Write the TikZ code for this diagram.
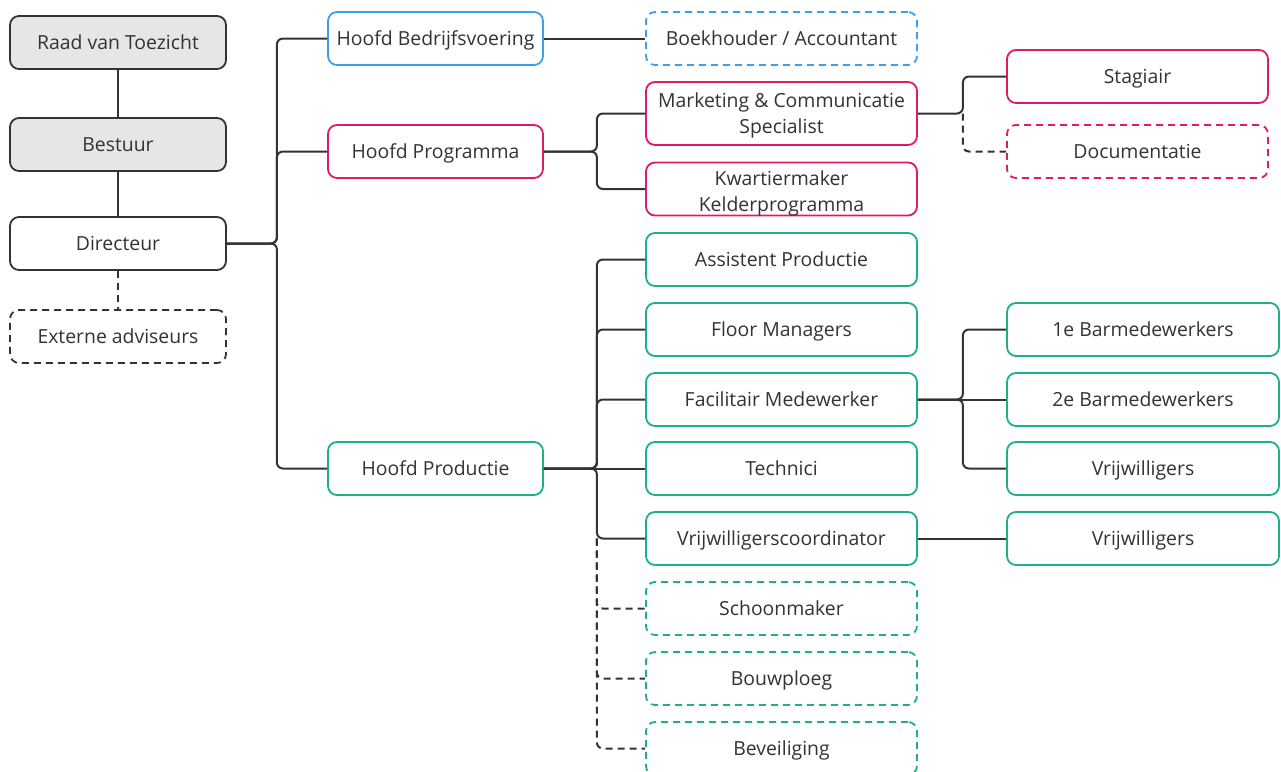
\documentclass[tikz,border=0pt]{standalone}
\usepackage{fontspec}
\setmainfont{Open Sans}
\definecolor{dk}{HTML}{333333}
\definecolor{gr}{HTML}{E6E6E6}
\definecolor{bl}{HTML}{3BA0E8}
\definecolor{mg}{HTML}{E0196A}
\definecolor{tl}{HTML}{1DAE8E}
\begin{document}
\begin{tikzpicture}[x=1pt,y=-1pt,
  font=\fontsize{19.4}{26.3}\selectfont, text=dk,
  box/.style={draw=#1, rounded corners=9pt, line width=1.8pt, minimum height=53pt,
    inner sep=0pt, text height=13.9pt, text depth=0pt, fill=white},
  dbox/.style={box=#1, dash pattern=on 7pt off 5pt},
  wa/.style={minimum width=216pt},
  wb/.style={minimum width=271pt},
  wc/.style={minimum width=261pt},
  wd/.style={minimum width=272pt},
  conn/.style={draw=dk, line width=2pt, rounded corners=6pt},
  dconn/.style={conn, dash pattern=on 7pt off 5pt}]
\useasboundingbox (0,0) rectangle (1281,771);
% left column
\node[box=dk, fill=gr, wa] (raad) at (118,42.5) {Raad van Toezicht};
\node[box=dk, fill=gr, wa] (best) at (118,144.5) {Bestuur};
\node[box=dk, wa] (dir) at (118,243.5) {Directeur};
\node[dbox=dk, wa] (ext) at (118,336.5) {Externe adviseurs};
% heads
\node[box=bl, minimum width=215pt] (hb) at (435.5,38.5) {Hoofd Bedrijfsvoering};
\node[box=mg, minimum width=215pt] (hpr) at (435.5,151.5) {Hoofd Programma};
\node[box=tl, minimum width=215pt] (hp) at (435.5,468.5) {Hoofd Productie};
% middle column
\node[dbox=bl, wb] (bk) at (781.5,38.5) {Boekhouder / Accountant};
\node[box=mg, wb, minimum height=63pt] (mc) at (781.5,113.5)
  {\raisebox{-13.2pt}{\parbox[b]{265pt}{\centering Marketing \& Communicatie\\Specialist}}};
\node[box=mg, wb] (kw) at (781.5,189)
  {\raisebox{-15.9pt}{\parbox[b]{265pt}{\centering Kwartiermaker\\Kelderprogramma}}};
\node[box=tl, wb] (ap) at (781.5,259.5) {Assistent Productie};
\node[box=tl, wb] (fm) at (781.5,329.5) {Floor Managers};
\node[box=tl, wb] (fac) at (781.5,399.5) {Facilitair Medewerker};
\node[box=tl, wb] (tec) at (781.5,468.5) {Technici};
\node[box=tl, wb] (vc) at (781.5,538.5) {Vrijwilligerscoordinator};
\node[dbox=tl, wb] (sch) at (781.5,608.5) {Schoonmaker};
\node[dbox=tl, wb] (bouw) at (781.5,678.5) {Bouwploeg};
\node[dbox=tl, wb] (bev) at (781.5,748.5) {Beveiliging};
% right column
\node[box=mg, wc] (stag) at (1137.5,76.5) {Stagiair};
\node[dbox=mg, wc] (doc) at (1137.5,151.5) {Documentatie};
\node[box=tl, wd] (b1) at (1143,329.5) {1e Barmedewerkers};
\node[box=tl, wd] (b2) at (1143,399.5) {2e Barmedewerkers};
\node[box=tl, wd] (vr1) at (1143,468.5) {Vrijwilligers};
\node[box=tl, wd] (vr2) at (1143,538.5) {Vrijwilligers};
% connectors
\draw[conn] (raad) -- (best);
\draw[conn] (best) -- (dir);
\draw[dconn] (dir.south) -- (ext.north);
\draw[conn] (dir.east) -- ++(50,0) |- (hb.west);
\draw[conn] (dir.east) -- ++(50,0) |- (hpr.west);
\draw[conn] (dir.east) -- ++(50,0) |- (hp.west);
\draw[conn] (hb.east) -- (bk.west);
\draw[conn] (hpr.east) -- ++(53,0) |- (mc.west);
\draw[conn] (hpr.east) -- ++(53,0) |- (kw.west);
\draw[conn] (mc.east) -- ++(45,0) |- (stag.west);
\draw[dconn] (mc.east) ++(45,0) |- (doc.west);
\draw[conn] (hp.east) -- ++(53,0) |- (ap.west);
\draw[conn] (hp.east) -- ++(53,0) |- (fm.west);
\draw[conn] (hp.east) -- ++(53,0) |- (fac.west);
\draw[conn] (hp.east) -- (tec.west);
\draw[conn] (hp.east) -- ++(53,0) |- (vc.west);
\draw[dconn] (hp.east) ++(53,70) |- (sch.west);
\draw[dconn] (hp.east) ++(53,70) |- (bouw.west);
\draw[dconn] (hp.east) ++(53,70) |- (bev.west);
\draw[conn] (fac.east) -- ++(45,0) |- (b1.west);
\draw[conn] (fac.east) -- (b2.west);
\draw[conn] (fac.east) -- ++(45,0) |- (vr1.west);
\draw[conn] (vc.east) -- (vr2.west);
\end{tikzpicture}
\end{document}
